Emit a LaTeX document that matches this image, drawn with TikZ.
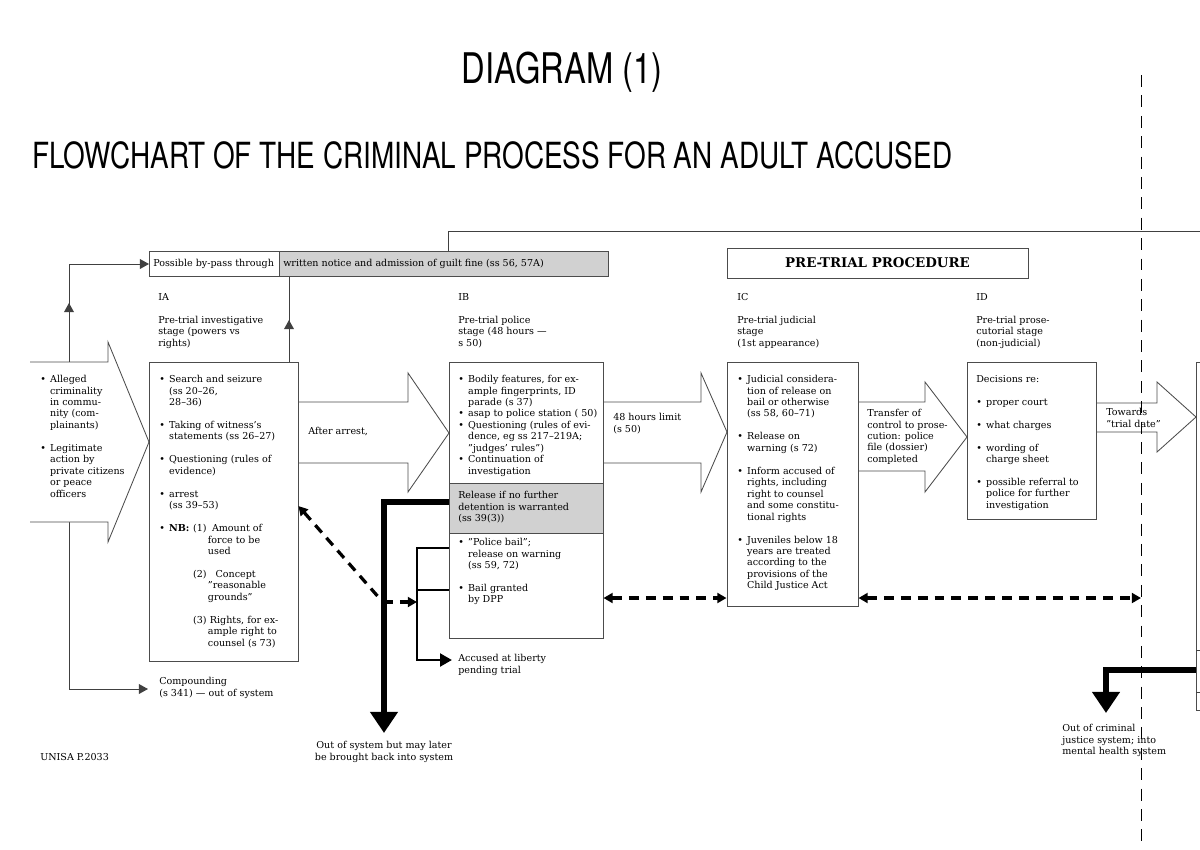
\documentclass[tikz,border=0pt]{standalone}
\usepackage{fontspec}
\setmainfont{DejaVu Serif}
\newfontfamily\headfont[FakeStretch=0.775]{TeX Gyre Heros}
\usetikzlibrary{arrows.meta,fit,positioning}
\tikzset{>={Triangle[length=6.5pt,width=7pt]}}
\newcommand\bodyfont{\fontsize{6.8}{8.15}\selectfont}
\newcommand\bul{\makebox[7pt][l]{\textbullet}}
\newcommand\ind{\hspace*{7pt}}
\newcommand\gap{\\[8.15pt]}
\tikzset{
  box/.style={draw=black!70,line width=0.7pt,inner sep=0pt,fill=white},
  greybox/.style={box,fill=black!18},
  txt/.style={anchor=north west,align=left,inner sep=0pt,font=\bodyfont},
  bigarrow/.style={draw=black!70,line width=0.6pt,fill=white,line join=miter},
  thinline/.style={draw=black!75,line width=0.7pt},
  fatline/.style={line width=4.3pt,-{Triangle[length=15pt,width=19pt]}},
  midline/.style={line width=2.1pt},
  dashline/.style={line width=2.3pt,dash pattern=on 7pt off 5pt},
  stageline/.style={line width=0.7pt,dash pattern=on 8.5pt off 6pt}
}

\begin{document}
\begin{tikzpicture}[x=0.025cm,y=-0.025cm]
\useasboundingbox (0,0) rectangle (1200,849);

% headings
\node[font={\headfont\fontsize{30}{30}\selectfont}] (diag) at (562,72) {DIAGRAM (1)};
\node[font={\headfont\fontsize{25.6}{26}\selectfont},anchor=west,inner sep=0pt] (flow) at (32,155) {FLOWCHART OF THE CRIMINAL PROCESS FOR AN ADULT ACCUSED};

% thin lines round the left
\coordinate (src) at (69,442);
\coordinate (comp-in) at (148,689);
\draw[thinline,->] (src) -- (69,303);
\draw[thinline,->] (69,305) |- (149,264);
\draw[thinline,->] (src) |- (comp-in);
\draw[thinline,->] (289,362) -- (289,320);
\draw[thinline] (289,322) -- (289,276);
\draw[thinline] (448,251) -- (448,231) -- (1200,231);

% big arrows
\filldraw[bigarrow] (30,362) -- (108,362) -- (108,342) -- (149,442) -- (108,542) -- (108,522) -- (30,522);
\filldraw[bigarrow] (298,402) -- (408,402) -- (408,373) -- (449,433) -- (408,492) -- (408,463) -- (298,463);
\filldraw[bigarrow] (603,402) -- (701,402) -- (701,373) -- (727,432) -- (701,492) -- (701,463) -- (603,463);
\filldraw[bigarrow] (858,402) -- (925,402) -- (925,382) -- (967,437) -- (925,492) -- (925,471) -- (858,471);
\filldraw[bigarrow] (1096,403) -- (1157,403) -- (1157,382) -- (1196,417) -- (1157,452) -- (1157,432) -- (1096,432);

% boxes
\node[box,fit={(149,251) (279,276)}] (bypass) {};
\node[greybox,fit={(279,251) (608,276)}] (guilt) {};
\node[box,fit={(727,248) (1028,278)}] (ptp) {};
\node[font={\bfseries\fontsize{9.5}{10}\selectfont},inner sep=0pt] (ptp-t) at (ptp.center) {PRE-TRIAL PROCEDURE};
\node[box,fit={(149,362) (298,661)}] (ia) {};
\node[box,fit={(449,362) (603,638)}] (ib) {};
\node[greybox,fit={(449,483) (603,533)}] (rel) {};
\node[box,fit={(727,362) (858,606)}] (ic) {};
\node[box,fit={(967,362) (1096,519)}] (id) {};
\node[box,fit={(1196,362) (1230,710)}] (trial) {};
\draw[thinline] (1196,650) -- (1215,650);
\draw[thinline] (1196,692) -- (1215,692);

% texts
\node[txt] (bypass-t) at (153,259) {Possible by-pass through};
\node[txt] (guilt-t) at (283,259) {written notice and admission of guilt fine (ss 56, 57A)};

\node[txt] (ia-lbl) at (158,293) {IA\gap Pre-trial investigative\\stage (powers vs\\rights)};
\node[txt] (ib-lbl) at (458,293) {IB\gap Pre-trial police\\stage (48 hours ---\\s 50)};
\node[txt] (ic-lbl) at (737,293) {IC\gap Pre-trial judicial\\stage\\(1st appearance)};
\node[txt] (id-lbl) at (976,293) {ID\gap Pre-trial prose-\\cutorial stage\\(non-judicial)};

\node[txt] (src-t) at (40,375) {\bul Alleged\\\ind criminality\\\ind in commu-\\\ind nity (com-\\\ind plainants)\gap
  \bul Legitimate\\\ind action by\\\ind private citizens\\\ind or peace\\\ind officers};

\node[txt] (ia-t) at (159,375) {\bul Search and seizure\\\ind (ss 20--26,\\\ind 28--36)\gap
  \bul Taking of witness's\\\ind statements (ss 26--27)\gap
  \bul Questioning (rules of\\\ind evidence)\gap
  \bul arrest\\\ind (ss 39--53)\gap
  \bul\makebox[17pt][l]{\textbf{NB:}}\makebox[13.5pt][l]{(1)}Amount of\\\hspace*{34.6pt}force to be\\\hspace*{34.6pt}used\gap
  \hspace*{24pt}\makebox[16pt][l]{(2)}Concept\\\hspace*{34.6pt}''reasonable\\\hspace*{34.6pt}grounds''\gap
  \hspace*{24pt}\makebox[12pt][l]{(3)}Rights, for ex-\\\hspace*{34.6pt}ample right to\\\hspace*{34.6pt}counsel (s 73)};

\node[txt] (arrest-t) at (308,427) {After arrest,};

\node[txt] (ib-t) at (458,375) {\bul Bodily features, for ex-\\\ind ample fingerprints, ID\\\ind parade (s 37)\\
  \bul asap to police station ( 50)\\
  \bul Questioning (rules of evi-\\\ind dence, eg ss 217--219A;\\\ind ''judges' rules'')\\
  \bul Continuation of\\\ind investigation};
\node[txt] (rel-t) at (458,491) {Release if no further\\detention is warranted\\(ss 39(3))};
\node[txt] (bail-t) at (458,538) {\bul ''Police bail'';\\\ind release on warning\\\ind (ss 59, 72)\gap
  \bul Bail granted\\\ind by DPP};

\node[txt] (limit-t) at (613,413) {48 hours limit\\(s 50)};

\node[txt] (ic-t) at (737,375) {\bul Judicial considera-\\\ind tion of release on\\\ind bail or otherwise\\\ind (ss 58, 60--71)\gap
  \bul Release on\\\ind warning (s 72)\gap
  \bul Inform accused of\\\ind rights, including\\\ind right to counsel\\\ind and some constitu-\\\ind tional rights\gap
  \bul Juveniles below 18\\\ind years are treated\\\ind according to the\\\ind provisions of the\\\ind Child Justice Act};

\node[txt] (transfer-t) at (867,409) {Transfer of\\control to prose-\\cution: police\\file (dossier)\\completed};

\node[txt] (id-t) at (976,375) {Decisions re:\gap
  \bul proper court\gap
  \bul what charges\gap
  \bul wording of\\\ind charge sheet\gap
  \bul possible referral to\\\ind police for further\\\ind investigation};

\node[txt] (towards-t) at (1106,408) {Towards\\''trial date''};

\node[txt] (comp) at (159,677) {Compounding\\(s 341) --- out of system};
\coordinate (lib-in) at (452,660);
\node[txt] (lib) at (458,654) {Accused at liberty\\pending trial};
\node[txt,anchor=north,align=center] (out1) at (384,741) {Out of system but may later\\be brought back into system};
\coordinate (out2-in) at (1106,713);
\node[txt] (out2) at (1062,724) {Out of criminal\\justice system; into\\mental health system};
\node[txt] (unisa) at (40,753) {UNISA P.2033};

% heavy connectors
\draw[fatline] ([yshift=4.25pt]rel.west) -| ([yshift=5.7pt]out1.north);
\draw[midline,-{Triangle[length=8.5pt,width=9pt]}] (ib.west |- 0,548) -- (417,548) -- (417,660) -- (lib-in);
\draw[midline] (ib.west |- 0,590) -- (417,590);
\draw[fatline] (trial.west |- 0,670) -| (out2-in);

% dashed connectors
\draw[dashline,<-] (ia.east |- 0,506) -- (381,600);
\draw[dashline,->] (383,602) -- (417,602);
\draw[dashline,<->] (ib.east |- 0,598) -- (ic.west |- 0,598);
\draw[dashline,<->] (ic.east |- 0,598) -- (1141,598);

% stage limit
\draw[stageline] (1141,75) -- (1141,849);
\end{tikzpicture}
\end{document}
